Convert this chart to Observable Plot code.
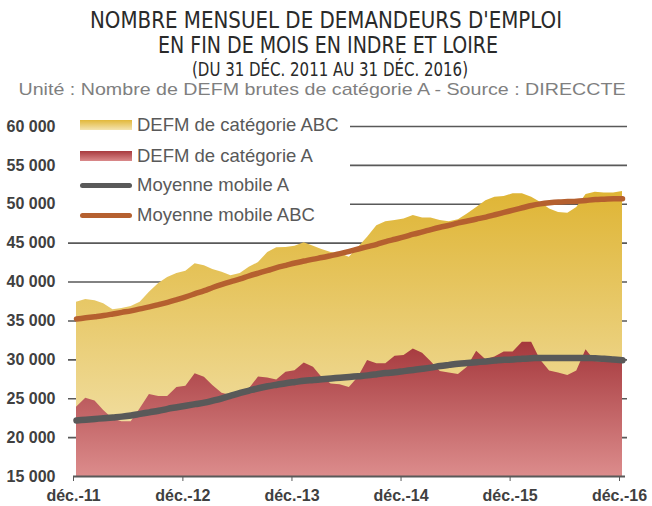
<!DOCTYPE html>
<html><head><meta charset="utf-8">
<script src="https://cdn.jsdelivr.net/npm/d3@7"></script>
<script src="https://cdn.jsdelivr.net/npm/@observablehq/plot@0.6"></script>
<style>
body{margin:0;background:#fff;}
#wrap{position:relative;width:652px;height:506px;overflow:hidden;}
#head{display:block;}
#legend{position:absolute;left:62px;top:108px;width:288px;height:120px;background:#fff;font-family:"Liberation Sans",Arial,sans-serif;font-size:18.5px;color:#595959;}
.row{position:absolute;left:18px;height:22px;display:flex;align-items:center;white-space:nowrap;}
.sw{width:52px;margin-right:5px;}
.box{height:10px;}
.ln{height:5px;border-radius:3px;}
</style></head>
<body>
<div id="wrap">
<svg id="head" width="652" height="100" font-family="'Liberation Sans Narrow','DejaVu Sans Condensed','Liberation Sans',sans-serif">
  <text x="326" y="28" text-anchor="middle" font-size="23" fill="#2a2a2a" textLength="472" lengthAdjust="spacingAndGlyphs">NOMBRE MENSUEL DE DEMANDEURS D'EMPLOI</text>
  <text x="328" y="53" text-anchor="middle" font-size="23" fill="#2a2a2a" textLength="340" lengthAdjust="spacingAndGlyphs">EN FIN DE MOIS EN INDRE ET LOIRE</text>
  <text x="330" y="76" text-anchor="middle" font-size="20" fill="#2a2a2a" textLength="276" lengthAdjust="spacingAndGlyphs">(DU 31 DÉC. 2011 AU 31 DÉC. 2016)</text>
  <text x="322" y="95" text-anchor="middle" font-size="17" fill="#7f7f7f" font-family="'Liberation Sans',sans-serif" textLength="607" lengthAdjust="spacingAndGlyphs">Unité : Nombre de DEFM brutes de catégorie A - Source : DIRECCTE</text>
</svg>
<div id="chart"></div>
<div id="legend">
  <div class="row" style="top:6px"><div class="sw box" style="background:linear-gradient(#e2b83a,#f4e4b2)"></div>DEFM de catégorie ABC</div>
  <div class="row" style="top:37px"><div class="sw box" style="background:linear-gradient(#a83a3e,#da8a8b)"></div>DEFM de catégorie A</div>
  <div class="row" style="top:66px"><div class="sw ln" style="background:#595959"></div>Moyenne mobile A</div>
  <div class="row" style="top:96px"><div class="sw ln" style="background:#b5602f"></div>Moyenne mobile ABC</div>
</div>
</div>
<script>
const tickLabels = ["déc.-11","déc.-12","déc.-13","déc.-14","déc.-15","déc.-16"];
const yTicks = [15000,20000,25000,30000,35000,40000,45000,50000,55000,60000];
const defmABC = [37400,37750,37600,37200,36450,36600,36850,37400,38700,39800,40600,41100,41400,42350,42100,41600,41250,40800,41100,41900,42500,43800,44400,44450,44600,45050,44600,44200,43800,43650,43200,44450,45750,47250,47750,47900,48100,48550,48250,48250,47900,47750,48000,48750,49600,50450,50900,51000,51350,51350,50900,50250,49400,48950,48850,49600,51250,51550,51450,51450,51650];
const defmA = [23900,25050,24700,23500,22400,22050,22050,23700,25550,25300,25300,26450,26600,28200,27750,26700,25700,25400,25300,26250,27800,27650,27400,28400,28600,29600,29050,27750,26900,26800,26450,27750,29900,29500,29500,30450,30550,31400,30850,29800,28500,28300,28100,29050,31100,30000,30350,31000,31000,32250,32250,30000,28550,28300,28000,28550,31300,29800,29700,29800,29900];
const moyenneA = [22200,22300,22400,22500,22600,22700,22850,23050,23250,23450,23700,23900,24100,24300,24500,24750,25050,25400,25750,26050,26350,26600,26800,27000,27150,27300,27400,27500,27600,27700,27800,27900,28000,28150,28300,28400,28550,28700,28850,29000,29200,29350,29500,29600,29700,29800,29900,30000,30050,30150,30200,30250,30250,30250,30250,30250,30250,30200,30150,30050,29950];
const moyenneABC = [35250,35400,35550,35700,35900,36100,36300,36550,36800,37100,37400,37750,38100,38500,38900,39300,39700,40050,40400,40800,41150,41500,41850,42150,42450,42700,42950,43150,43400,43650,43950,44250,44550,44850,45200,45500,45800,46150,46450,46750,47050,47300,47600,47850,48100,48350,48650,48950,49250,49550,49850,50050,50200,50300,50350,50400,50500,50600,50650,50700,50700];

const dates = d3.utcMonth.range(new Date(Date.UTC(2011, 11, 1)), new Date(Date.UTC(2016, 11, 2)));
const tickDates = tickLabels.map((_, k) => new Date(Date.UTC(2011 + k, 11, 1)));
const rows = dates.map((d, i) => ({date: d, abc: defmABC[i], a: defmA[i], mA: moyenneA[i], mABC: moyenneABC[i]}));
const fmt = d => d3.format(",")(d).replace(/,/g, " ");

function defs() {
  const g = d3.create("svg:defs");
  const gold = g.append("linearGradient").attr("id", "gGold").attr("x1", 0).attr("y1", 0).attr("x2", 0).attr("y2", 1);
  gold.append("stop").attr("offset", "0%").attr("stop-color", "#dfb535");
  gold.append("stop").attr("offset", "100%").attr("stop-color", "#f4e5b4");
  const red = g.append("linearGradient").attr("id", "gRed").attr("x1", 0).attr("y1", 0).attr("x2", 0).attr("y2", 1);
  red.append("stop").attr("offset", "0%").attr("stop-color", "#a5383c");
  red.append("stop").attr("offset", "100%").attr("stop-color", "#dc8c8c");
  return g.node();
}

const chart = Plot.plot({
  width: 652, height: 406,
  marginTop: 26, marginBottom: 30, marginLeft: 76, marginRight: 30,
  style: {fontFamily: "'Liberation Sans', Arial, sans-serif", fontSize: "16px", fontWeight: "bold", color: "#404040", background: "transparent"},
  x: {type: "utc", domain: [dates[0], dates[dates.length - 1]]},
  y: {domain: [15000, 60000]},
  marks: [
    defs,
    Plot.ruleY(yTicks.slice(1), {stroke: "#595959", strokeWidth: 1.6, insetLeft: -8, insetRight: -5}),
    Plot.areaY(rows, {x: "date", y1: 15000, y2: "abc", fill: "url(#gGold)"}),
    Plot.areaY(rows, {x: "date", y1: 15000, y2: "a", fill: "url(#gRed)"}),
    Plot.line(rows, {x: "date", y: "mA", stroke: "#595959", strokeWidth: 6.5, curve: "monotone-x", strokeLinecap: "round"}),
    Plot.line(rows, {x: "date", y: "mABC", stroke: "#b5602f", strokeWidth: 5.5, curve: "monotone-x", strokeLinecap: "round"}),
    Plot.ruleY([15000], {stroke: "#595959", strokeWidth: 2.2, insetLeft: -3, insetRight: -3}),
    Plot.axisY({ticks: yTicks, tickFormat: fmt, tickSize: 0, tickPadding: 21, label: null}),
    Plot.axisX({ticks: tickDates, tickFormat: d => tickLabels[d.getUTCFullYear() - 2011], tickSize: 5, tickPadding: 8, dx: -3, label: null, stroke: "#595959"})
  ]
});
document.getElementById("chart").appendChild(chart);
</script>
</body></html>
